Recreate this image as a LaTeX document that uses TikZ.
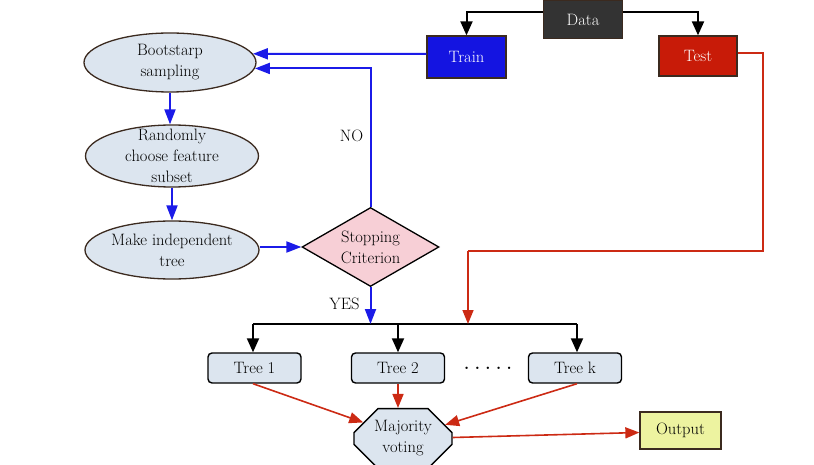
\documentclass[tikz,border=0pt]{standalone}
\usetikzlibrary{arrows.meta,shapes.geometric,shapes.misc}
\definecolor{ellfill}{HTML}{DCE5EF}
\definecolor{brownb}{HTML}{3B2A1F}
\definecolor{databg}{HTML}{333333}
\definecolor{trainbg}{HTML}{1414E1}
\definecolor{testbg}{HTML}{C81B08}
\definecolor{diafill}{HTML}{F7CFD6}
\definecolor{outfill}{HTML}{EDF3A0}
\definecolor{blueln}{HTML}{1B1BE8}
\definecolor{redln}{HTML}{CC2A14}
\begin{document}
\begin{tikzpicture}[x=1pt,y=-1pt,
  every node/.style={font=\fontsize{16.5}{21}\selectfont, align=center},
  topbox/.style={draw=brownb, line width=1.3pt, rectangle, inner sep=0pt, text=white},
  ellbox/.style={ellipse, draw=brownb, fill=ellfill, line width=1.3pt, inner xsep=0pt, inner ysep=-20pt},
  diabox/.style={diamond, draw=black, fill=diafill, line width=1.3pt, inner sep=0pt, aspect=1.73, minimum width=137pt, minimum height=79pt},
  treebox/.style={rectangle, rounded corners=4pt, draw=black, fill=ellfill, line width=1.4pt, minimum width=93pt, minimum height=30pt, inner sep=0pt},
  majbox/.style={chamfered rectangle, chamfered rectangle xsep=12pt, chamfered rectangle ysep=12pt, draw=black, fill=ellfill, line width=1.4pt, minimum width=98pt, minimum height=47pt, inner sep=0pt},
  outbox/.style={rectangle, draw=brownb, fill=outfill, line width=1.3pt, minimum width=81pt, minimum height=37pt, inner sep=0pt},
  blkarrow/.style={draw=black, line width=2pt, -{Triangle[length=14pt,width=12pt]}},
  bluearrow/.style={draw=blueln, line width=2pt, -{Triangle[length=15pt,width=11pt]}},
  redarrow/.style={draw=redln, line width=1.6pt, -{Triangle[length=14pt,width=11pt]}},
  lbl/.style={inner sep=0pt}
]
\useasboundingbox (0,0) rectangle (814,465);

% top boxes
\node[topbox, fill=databg, minimum width=79pt, minimum height=38pt] (data) at (583,19.5) {Data};
\node[topbox, fill=trainbg, minimum width=79pt, minimum height=42pt] (train) at (466.5,57) {Train};
\node[topbox, fill=testbg, minimum width=78pt, minimum height=40pt] (test) at (698,56) {Test};

% ellipses
\node[ellbox, minimum width=172pt, minimum height=59pt] (boot) at (170,62.5) {Bootstarp\\sampling};
\node[ellbox, minimum width=173pt, minimum height=62pt] (rand) at (172,156) {Randomly\\choose feature\\subset};
\node[ellbox, minimum width=174pt, minimum height=58pt] (make) at (172,250) {Make independent\\tree};

% diamond
\node[diabox] (dia) at (370.5,247) {Stopping\\Criterion};

% trees
\node[treebox] (t1) at (254.5,368) {Tree 1};
\node[treebox] (t2) at (398,368) {Tree 2};
\node[treebox] (tk) at (575,368) {Tree k};
\node[lbl] (dots) at (488,368) {\textbf{.\,\,.\,\,.\,\,.\,\,.}};

\node[majbox] (maj) at (403,438.5) {Majority\\voting};
\node[outbox] (out) at (680.5,430.5) {Output};

% labels
\node[lbl] (no) at (351.5,136) {NO};
\node[lbl] (yes) at (344.5,304) {YES};

% coordinates
\coordinate (bar) at (370.5,324);
\coordinate (barL) at (253,324);
\coordinate (barR) at (577,324);
\coordinate (r1) at (763,251);
\coordinate (r2) at (468,251);
\coordinate (barr) at (468,324);

% black connectors
\draw[blkarrow] ([yshift=7pt]data.west) -| (train.north);
\draw[blkarrow] ([yshift=7pt]data.east) -| (test.north);
\draw[draw=black, line width=2pt] (barL) -- (barR);
\draw[blkarrow] (barL) -- (barL |- t1.north);
\draw[blkarrow] (bar -| t2.north) -- (t2.north);
\draw[blkarrow] (barR) -- (barR |- tk.north);

% blue connectors
\draw[bluearrow] ([yshift=3pt]train.west) -- (boot.6);
\draw[bluearrow] (boot.south) -- (boot.south |- rand.north);
\draw[bluearrow] (rand.south) -- (make.north);
\draw[bluearrow] (dia.west -| make.east) -- (dia.west);
\draw[bluearrow] (dia.north) |- (boot.-4);
\draw[bluearrow] (dia.south) -- (bar);

% red connectors
\draw[redln, line width=1.4pt, line join=miter] ([yshift=3pt]test.east) -| (r1) -- (r2);
\draw[redarrow] (r2) -- (barr);
\draw[redarrow] (t1.south -| barL) -- (maj.158);
\draw[redarrow] (t2.south) -- (t2.south |- maj.north);
\draw[redarrow] (tk.south -| barR) -- (maj.18);
\draw[redarrow] ([yshift=1pt]maj.east) -- ([yshift=-2pt]out.west);
\end{tikzpicture}
\end{document}
